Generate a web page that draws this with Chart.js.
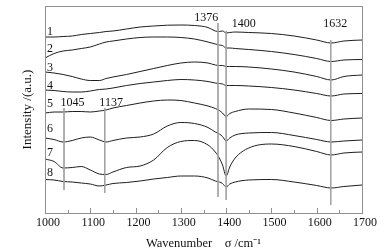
<!DOCTYPE html>
<html>
<head>
<meta charset="utf-8">
<script src="https://cdn.jsdelivr.net/npm/chart.js@4.4.0/dist/chart.umd.min.js"></script>
<style>
  html, body { margin: 0; padding: 0; background: #fff; }
  #chart { display: block; }
</style>
</head>
<body>
<canvas id="chart" width="392" height="252"></canvas>
<script>
// Wavenumbers (cm^-1) shared by all eight spectra
const wavenumbers = [1000, 1020, 1040, 1060, 1080, 1100, 1120, 1135, 1150, 1180, 1210, 1240, 1270, 1300, 1330, 1360, 1376, 1385, 1392, 1400, 1408, 1420, 1450, 1500, 1550, 1600, 1632, 1660, 1700];

// Intensities (a.u., offset stacked)
const spectrum1 = [176, 176, 176.5, 177, 178.5, 179.5, 180.5, 181.5, 182, 184, 186, 187, 187.8, 188, 187.5, 185.5, 182, 181.5, 182, 180, 180.5, 181, 180.5, 179.5, 177, 173, 170, 172, 173];
const spectrum2 = [155, 159.5, 162, 163, 164.5, 166, 169, 171, 172, 174, 175.5, 176, 176, 175.5, 174, 171, 169, 168, 167.5, 165, 165, 164.5, 163.5, 161.5, 158.5, 154.5, 151.5, 153, 153.5];
const spectrum3 = [141, 140, 138.5, 136.5, 134, 132.5, 132.5, 134.5, 136, 138.5, 141.5, 144.5, 147.5, 150, 151, 150, 148, 147.5, 147.5, 146.5, 146.5, 146.5, 146, 144, 141, 136.5, 133, 136.5, 138];
const spectrum4 = [123, 122.5, 121.5, 121, 121, 122, 123.5, 124, 125, 127.5, 129.5, 131, 132.5, 133.5, 133, 131.5, 130, 129.5, 129, 127.5, 127.5, 127.5, 127, 125.5, 123, 119.5, 117, 119, 119.5];
const spectrum5 = [100, 101, 101, 101.5, 101.5, 101, 102, 103, 105, 107.5, 110, 112, 113, 112.5, 110, 107, 104.5, 102.5, 100, 96.5, 99.5, 101.5, 104, 103.5, 100, 95.5, 92.5, 94, 95];
const spectrum6 = [75, 73.5, 71, 72.5, 75, 76, 73, 71, 72.5, 75, 76, 79, 87, 90.5, 89.5, 85.5, 81, 79, 76.5, 72, 75, 78, 80, 80.5, 77.5, 73.5, 71, 72, 73];
const spectrum7 = [54, 51.5, 45, 45.5, 46.5, 43, 39, 38.5, 41, 45.5, 47, 53, 65.5, 71.5, 72.5, 68, 61, 55, 48, 37, 46, 55, 65, 69, 66.5, 61.5, 58, 60, 61];
const spectrum8 = [33.5, 33, 31.5, 31, 30, 29, 27, 28, 29.5, 30.5, 32, 34, 35.5, 37, 37, 35, 32, 31, 29.5, 26, 29, 31, 33, 33.5, 31, 27.5, 25, 26.5, 28];
const spectra = [spectrum1, spectrum2, spectrum3, spectrum4, spectrum5, spectrum6, spectrum7, spectrum8];
const spectrumNames = ['1', '2', '3', '4', '5', '6', '7', '8'];

// Band markers: label, drawn position, top and bottom of the line
const markerLabels = ['1045', '1137', '1376', '1400', '1632'];
const markerX = [1042, 1132, 1382, 1400, 1631];
const markerTop = [105, 105, 190, 182, 173];
const markerBottom = [23, 20, 16, 13, 8];

// Axis ticks
const xTicks = [1000, 1100, 1200, 1300, 1400, 1500, 1600, 1700];
const xMinorTicks = [1050, 1150, 1250, 1350, 1450, 1550, 1650];

const serif = '"Liberation Serif", "Times New Roman", serif';

// where the text labels sit (data coords)
const curveLabelAt = { x: 1011, y: [181.3, 164, 145.3, 127, 109, 83.7, 59.7, 40.3] };
const markerLabelAt = [
  { x: 1061, y: 110 },
  { x: 1146, y: 110 },
  { x: 1356, y: 195 },
  { x: 1439, y: 189 },
  { x: 1641, y: 189 }
];

const datasets = [];
markerX.forEach((mx, i) => {
  datasets.push({
    label: 'marker ' + markerLabels[i],
    data: [{ x: mx, y: markerTop[i] }, { x: mx, y: markerBottom[i] }],
    borderColor: '#a0a0a0',
    borderWidth: 0.9,
    pointRadius: 0,
    tension: 0
  });
});
spectra.forEach((vals, i) => {
  datasets.push({
    label: spectrumNames[i],
    data: wavenumbers.map((w, j) => ({ x: w, y: vals[j] })),
    borderColor: '#1e1e1e',
    borderWidth: 1,
    pointRadius: 0,
    cubicInterpolationMode: 'monotone'
  });
});

// frame, inward ticks and text annotations
const decorations = {
  id: 'decorations',
  afterDraw(chart) {
    const ctx = chart.ctx;
    const area = chart.chartArea;
    const xs = chart.scales.x;
    const ys = chart.scales.y;
    ctx.save();
    ctx.strokeStyle = '#909090';
    ctx.lineWidth = 1;
    ctx.strokeRect(Math.round(area.left) + 0.5, Math.round(area.top) + 0.5,
      Math.round(area.right - area.left), Math.round(area.bottom - area.top));

    ctx.beginPath();
    xTicks.forEach(t => {
      const px = Math.round(xs.getPixelForValue(t)) + 0.5;
      ctx.moveTo(px, area.bottom);
      ctx.lineTo(px, area.bottom - 5);
    });
    xMinorTicks.forEach(t => {
      const px = Math.round(xs.getPixelForValue(t)) + 0.5;
      ctx.moveTo(px, area.bottom);
      ctx.lineTo(px, area.bottom - 3);
    });
    ctx.stroke();

    ctx.fillStyle = '#111';
    ctx.font = '12px ' + serif;
    ctx.textAlign = 'center';
    ctx.textBaseline = 'middle';
    spectrumNames.forEach((n, i) => {
      ctx.fillText(n, xs.getPixelForValue(curveLabelAt.x), ys.getPixelForValue(curveLabelAt.y[i]));
    });
    markerLabels.forEach((txt, i) => {
      ctx.fillText(txt, xs.getPixelForValue(markerLabelAt[i].x), ys.getPixelForValue(markerLabelAt[i].y));
    });
    ctx.restore();
  }
};

const ctx = document.getElementById('chart').getContext('2d');
new Chart(ctx, {
  type: 'line',
  data: { datasets: datasets },
  options: {
    responsive: false,
    animation: false,
    events: [],
    layout: { padding: { top: 6, right: 30, left: 0, bottom: 0 } },
    plugins: {
      legend: { display: false },
      tooltip: { enabled: false }
    },
    scales: {
      x: {
        type: 'linear',
        min: 1000,
        max: 1700,
        afterBuildTicks: scale => { scale.ticks = xTicks.map(v => ({ value: v })); },
        afterFit: scale => { scale.height = 39; },
        grid: { display: true, drawOnChartArea: false, drawTicks: false },
        border: { display: false },
        ticks: {
          color: '#111',
          padding: 3,
          maxRotation: 0,
          font: { family: serif, size: 12 },
          callback: v => '  ' + v
        },
        title: {
          display: true,
          text: 'Wavenumber    \u03c3 /cm\u207b\u00b9',
          color: '#111',
          font: { family: serif, size: 12.5 },
          padding: { top: 0, bottom: 1 }
        }
      },
      y: {
        min: 0,
        max: 207,
        afterFit: scale => { scale.width = 45; },
        grid: { display: false },
        border: { display: false },
        ticks: { display: false },
        title: {
          display: true,
          text: 'Intensity /(a.u.)',
          color: '#111',
          font: { family: serif, size: 13 },
          padding: { top: 20, bottom: 0 }
        }
      }
    }
  },
  plugins: [decorations]
});
</script>
</body>
</html>
